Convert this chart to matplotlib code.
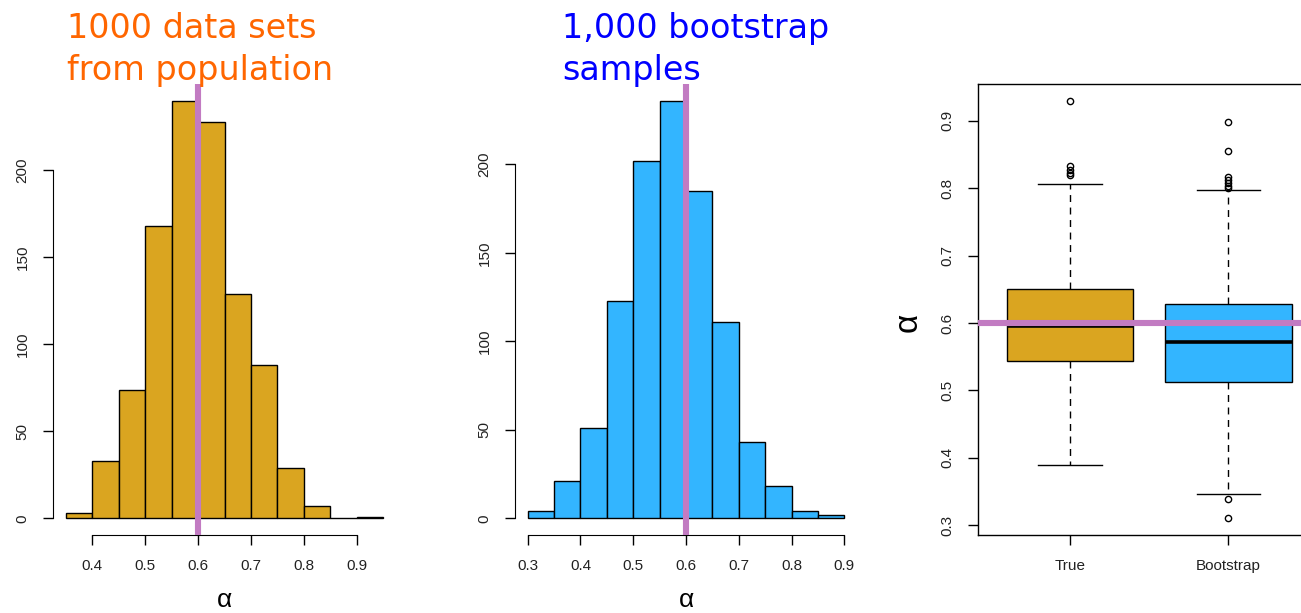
import numpy as np, matplotlib; matplotlib.use("Agg"); import matplotlib.pyplot as plt

# --- data ---
pop_edges = [0.35,0.40,0.45,0.50,0.55,0.60,0.65,0.70,0.75,0.80,0.85,0.90,0.95]
pop_counts = [3,33,74,168,240,228,129,88,29,7,0,1]
boot_edges = [0.30,0.35,0.40,0.45,0.50,0.55,0.60,0.65,0.70,0.75,0.80,0.85,0.90]
boot_counts = [4,21,51,123,202,236,185,111,43,18,4,2]
box_labels = ["True","Bootstrap"]
box_q1 = [0.544,0.513]; box_med = [0.596,0.572]; box_q3 = [0.651,0.628]
box_lo = [0.389,0.346]; box_hi = [0.806,0.798]
box_fliers = [[0.930,0.833,0.827,0.823,0.820],
              [0.899,0.856,0.816,0.812,0.808,0.803,0.801,0.339,0.310]]
true_alpha = 0.6

gold = "#DAA520"; blue = "#33B5FF"; purple = "#C27BC2"
plt.rcParams["font.family"] = ["Liberation Sans", "DejaVu Sans"]

fig = plt.figure(figsize=(13.01,6.13), dpi=100)

def r_lim(lo, hi):                     # R-style 4% extension
    d = (hi-lo)*0.04; return lo-d, hi+d

def hist_panel(rect, edges, counts, color, xticks):
    ax = fig.add_axes(rect)
    ax.bar(edges[:-1], counts, width=np.diff(edges), align="edge", color=color,
           edgecolor="black", linewidth=1.0)
    ax.axvline(true_alpha, color=purple, lw=4.4, zorder=5)
    ax.set_xlim(*r_lim(edges[0], edges[-1])); ax.set_ylim(*r_lim(0, max(counts)))
    for s in ["top","right"]: ax.spines[s].set_visible(False)
    ax.spines["left"].set_bounds(0,200); ax.spines["bottom"].set_bounds(xticks[0],xticks[-1])
    ax.set_yticks([0,50,100,150,200]); ax.set_xticks(xticks)
    ax.set_xticklabels([f"{t:.1f}" for t in xticks])
    ax.set_yticklabels(["0","50","100","150","200"], rotation=90, va="center")
    ax.tick_params(length=7, width=1.0, labelsize=11, pad=10, labelcolor="#222222")
    ax.annotate("α", xy=(0.5,0.0098), xycoords=("axes fraction","figure fraction"),
                ha="center", va="baseline", fontsize=19)
    return ax

hist_panel([53/1301, 78/613, 343/1301, 451/613], pop_edges, pop_counts, gold,
           [0.4,0.5,0.6,0.7,0.8,0.9])
hist_panel([515/1301, 78/613, 342/1301, 451/613], boot_edges, boot_counts, blue,
           [0.3,0.4,0.5,0.6,0.7,0.8,0.9])

for x, col, l1, l2 in [(67, "#FF6600", "1000 data sets", "from population"),
                       (562, "#0000FF", "1,000 bootstrap", "samples")]:
    fig.text(x/1301, 1-38/613, l1, color=col, fontsize=24, family="DejaVu Sans", va="baseline")
    fig.text(x/1301, 1-80/613, l2, color=col, fontsize=24, family="DejaVu Sans", va="baseline")

# --- boxplot panel (runs past the right edge, as in the reference) ---
ax = fig.add_axes([978/1301, 78/613, 342/1301, 451/613])
stats = [dict(label=box_labels[i], q1=box_q1[i], med=box_med[i], q3=box_q3[i],
              whislo=box_lo[i], whishi=box_hi[i], fliers=box_fliers[i]) for i in range(2)]
bp = ax.bxp(stats, positions=[1,2], widths=0.8, patch_artist=True,
            boxprops=dict(linewidth=1.0, edgecolor="black"),
            medianprops=dict(color="black", linewidth=2.6),
            whiskerprops=dict(linestyle=(0,(5,4)), linewidth=1.0),
            capprops=dict(linewidth=1.0),
            flierprops=dict(marker="o", markerfacecolor="none", markeredgecolor="black",
                            markersize=4.5, markeredgewidth=1.0))
for patch, c in zip(bp["boxes"], [gold, blue]): patch.set_facecolor(c)
ax.axhline(true_alpha, color=purple, lw=4.4, zorder=5)
allv = box_lo+box_hi+[v for f in box_fliers for v in f]
ax.set_xlim(*r_lim(0.5, 2.5)); ax.set_ylim(*r_lim(min(allv), max(allv)))
ax.set_yticks([0.3,0.4,0.5,0.6,0.7,0.8,0.9])
ax.set_yticklabels([f"{t:.1f}" for t in ax.get_yticks()], rotation=90, va="center")
ax.tick_params(length=7, width=1.0, labelsize=11, pad=10, labelcolor="#222222")
for s in ax.spines.values(): s.set_linewidth(1.0)
ax.annotate("α", xy=(908/1301, (535-322)/451), xycoords=("figure fraction","axes fraction"),
            ha="center", va="center", rotation=90, fontsize=24)

fig.savefig("out.png", dpi=100)
